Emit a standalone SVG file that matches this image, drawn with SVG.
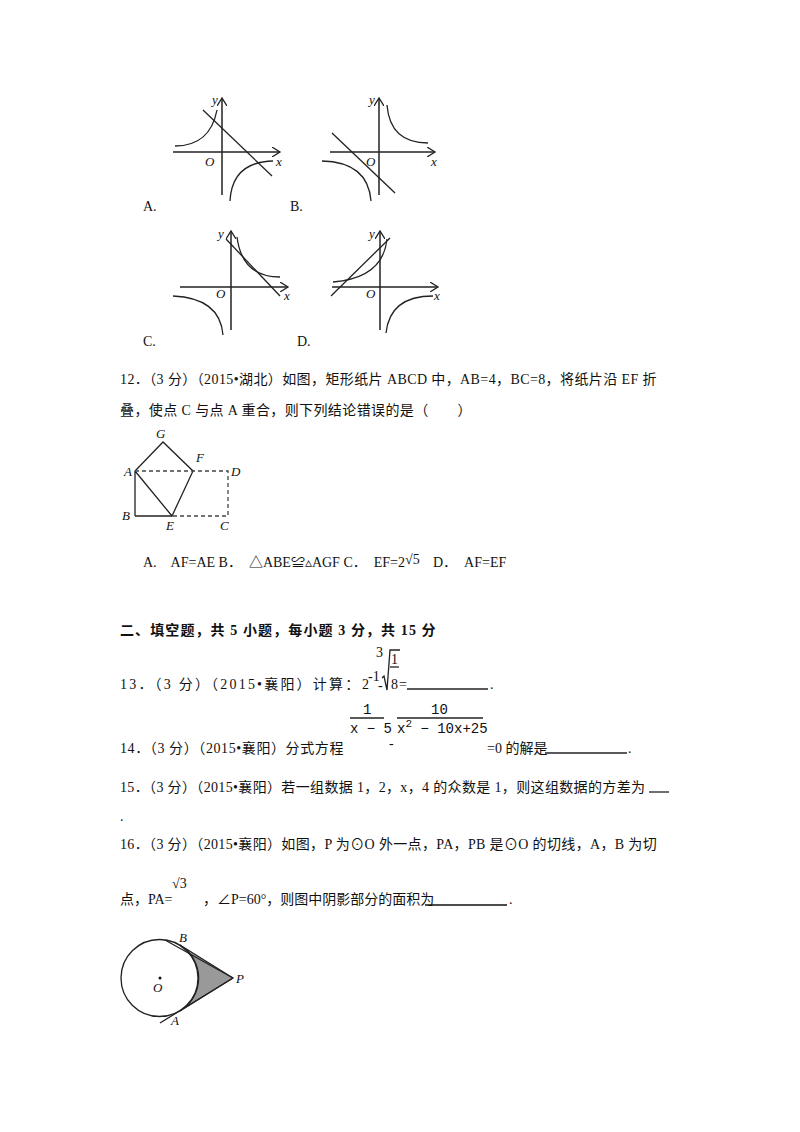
<svg xmlns="http://www.w3.org/2000/svg" width="800" height="1132" viewBox="0 0 800 1132">
<style>
text{font-family:"Liberation Serif","Noto Sans CJK SC",serif;font-size:14px;fill:#111}
.it{font-style:italic;font-size:13px}
.ln{stroke:#222;stroke-width:1.3;fill:none}
.ax{stroke:#222;stroke-width:1.5;fill:none}
.ds{stroke:#444;stroke-width:1.3;fill:none;stroke-dasharray:4,3}
.m{font-family:"Liberation Mono",monospace;font-size:14px}
</style>
<defs><marker id="ar" markerWidth="10" markerHeight="10" refX="8" refY="5" orient="auto" markerUnits="userSpaceOnUse"><path d="M0,0 L8,5 L0,10" fill="none" stroke="#222" stroke-width="1.3"/></marker></defs>
<rect width="800" height="1132" fill="#fff"/>
<g id="graphA">
<line class="ax" x1="222" y1="195" x2="222" y2="98" marker-end="url(#ar)"/>
<line class="ax" x1="173" y1="152" x2="280" y2="152" marker-end="url(#ar)"/>
<line class="ln" x1="203" y1="110" x2="272" y2="176"/>
<path class="ln" d="M175,146 Q210,146 217,110"/>
<path class="ln" d="M230,201 Q232,162 273,161"/>
<text class="it" x="205" y="166">O</text><text class="it" x="212" y="104">y</text><text class="it" x="276" y="166">x</text>
<text x="143" y="211">A.</text>
</g>
<g id="graphB">
<line class="ax" x1="379" y1="195" x2="379" y2="98" marker-end="url(#ar)"/>
<line class="ax" x1="330" y1="152" x2="435" y2="152" marker-end="url(#ar)"/>
<line class="ln" x1="332" y1="133" x2="395" y2="193"/>
<path class="ln" d="M387,105 Q390,143 428,143"/>
<path class="ln" d="M322,161 Q368,162 371,201"/>
<text class="it" x="366" y="166">O</text><text class="it" x="369" y="104">y</text><text class="it" x="431" y="166">x</text>
<text x="290" y="211">B.</text>
</g>
<g id="graphC">
<line class="ax" x1="231" y1="330" x2="231" y2="231" marker-end="url(#ar)"/>
<line class="ax" x1="180" y1="287" x2="288" y2="287" marker-end="url(#ar)"/>
<line class="ln" x1="226" y1="239" x2="280" y2="296"/>
<path class="ln" d="M237,237 Q242,277 280,277"/>
<path class="ln" d="M173,296 Q220,298 223,335"/>
<text class="it" x="216" y="298">O</text><text class="it" x="218" y="238">y</text><text class="it" x="284" y="300">x</text>
<text x="143" y="346">C.</text>
</g>
<g id="graphD">
<line class="ax" x1="380" y1="330" x2="380" y2="231" marker-end="url(#ar)"/>
<line class="ax" x1="332" y1="287" x2="438" y2="287" marker-end="url(#ar)"/>
<line class="ln" x1="331" y1="296" x2="390" y2="238"/>
<path class="ln" d="M333,282 Q383,278 387,239"/>
<path class="ln" d="M386,333 Q390,296 433,296"/>
<text class="it" x="366" y="298">O</text><text class="it" x="369" y="238">y</text><text class="it" x="434" y="300">x</text>
<text x="297" y="346">D.</text>
</g>
<g id="q12">
<text x="120" y="384" letter-spacing="0.4">12．（3 分）（2015•湖北）如图，矩形纸片 ABCD 中，AB=4，BC=8，将纸片沿 EF 折</text>
<text x="120" y="415" letter-spacing="0.4">叠，使点 C 与点 A 重合，则下列结论错误的是（　　）</text>
</g>
<g id="rectFig">
<polyline class="ln" points="135,516 135,471 163,442 193,471 172,516 135,471"/>
<line class="ln" x1="135" y1="516" x2="172" y2="516"/>
<polyline class="ds" points="135,471 228,471 228,516 172,516"/>
<text class="it" x="124" y="476">A</text><text class="it" x="122" y="520">B</text><text class="it" x="220" y="530">C</text><text class="it" x="231" y="476">D</text><text class="it" x="166" y="530">E</text><text class="it" x="196" y="462">F</text><text class="it" x="156" y="438">G</text>
</g>
<g id="q12opts">
<text x="143" y="567">A.　AF=AE B．　△ABE≌▵AGF C．　EF=2</text>
<text x="405" y="564" font-family="Liberation Sans,sans-serif">√5</text>
<text x="433" y="567">D．　AF=EF</text>
</g>
<text x="120" y="635" font-weight="bold" letter-spacing="1.1">二、填空题，共 5 小题，每小题 3 分，共 15 分</text>
<g id="q13">
<text x="120" y="689" letter-spacing="2.2">13．（3 分）（2015•襄阳）计算：</text>
<text x="362" y="689">2</text>
<text x="368" y="681" font-size="8">-1</text><text x="378" y="690">-</text>
<text x="376" y="657" font-size="9">3</text>
<path class="ln" d="M382,678 L384,676 L387,690 L390,650 L400,650"/>
<text x="391" y="664" font-family="Liberation Sans,sans-serif" font-size="14">1</text>
<line class="ln" x1="390" y1="667" x2="399" y2="667"/>
<text x="391" y="689" font-family="Liberation Sans,sans-serif" font-size="14">8</text>
<text x="399" y="689">=</text>
<line class="ln" x1="407" y1="689" x2="488" y2="689"/>
<text x="490" y="689">.</text>
</g>
<g id="q14">
<text x="120" y="753" letter-spacing="0.6">14．（3 分）（2015•襄阳）分式方程</text>
<text x="363" y="714" class="m">1</text><line class="ln" x1="350" y1="718" x2="384" y2="718"/><text x="350" y="733" class="m">x − 5</text>
<text x="389" y="748">-</text>
<text x="431" y="714" class="m">10</text><line class="ln" x1="397" y1="718" x2="483" y2="718"/><text x="397" y="733" class="m">x<tspan dy="-6" font-size="11">2</tspan><tspan dy="6"> − 10x+25</tspan></text>
<text x="487" y="753">=0 的解是</text>
<line class="ln" x1="545" y1="753" x2="627" y2="753"/><text x="628" y="753">.</text>
</g>
<g id="q15">
<text x="120" y="792" letter-spacing="0.35">15．（3 分）（2015•襄阳）若一组数据 1，2，x，4 的众数是 1，则这组数据的方差为</text>
<line class="ln" x1="649" y1="792" x2="669" y2="792"/>
<text x="120" y="821">.</text>
</g>
<g id="q16">
<text x="120" y="849" letter-spacing="0.35">16．（3 分）（2015•襄阳）如图，P 为⊙O 外一点，PA，PB 是⊙O 的切线，A，B 为切</text>
<text x="120" y="904">点，PA=</text>
<text x="172" y="888" font-family="Liberation Sans,sans-serif" font-size="15">√3</text>
<text x="203" y="904">，∠P=60°，则图中阴影部分的面积为</text>
<line x1="425" y1="905" x2="507" y2="905" stroke="#111" stroke-width="1.5"/><text x="509" y="904">.</text>
</g>
<g id="circleFig">
<path d="M233,978 L180,945 A38.5,38.5 0 0 1 180,1011 Z" fill="#999" stroke="#222" stroke-width="1.2"/>
<circle cx="159.5" cy="978" r="38.5" class="ln"/>
<line class="ln" x1="165" y1="940" x2="233" y2="978"/>
<line class="ln" x1="233" y1="978" x2="160" y2="1023"/>
<circle cx="160" cy="978" r="1.5" fill="#111"/>
<text class="it" x="179" y="942">B</text><text class="it" x="236" y="983">P</text><text class="it" x="153" y="992">O</text><text class="it" x="171" y="1025">A</text>
</g>
</svg>
